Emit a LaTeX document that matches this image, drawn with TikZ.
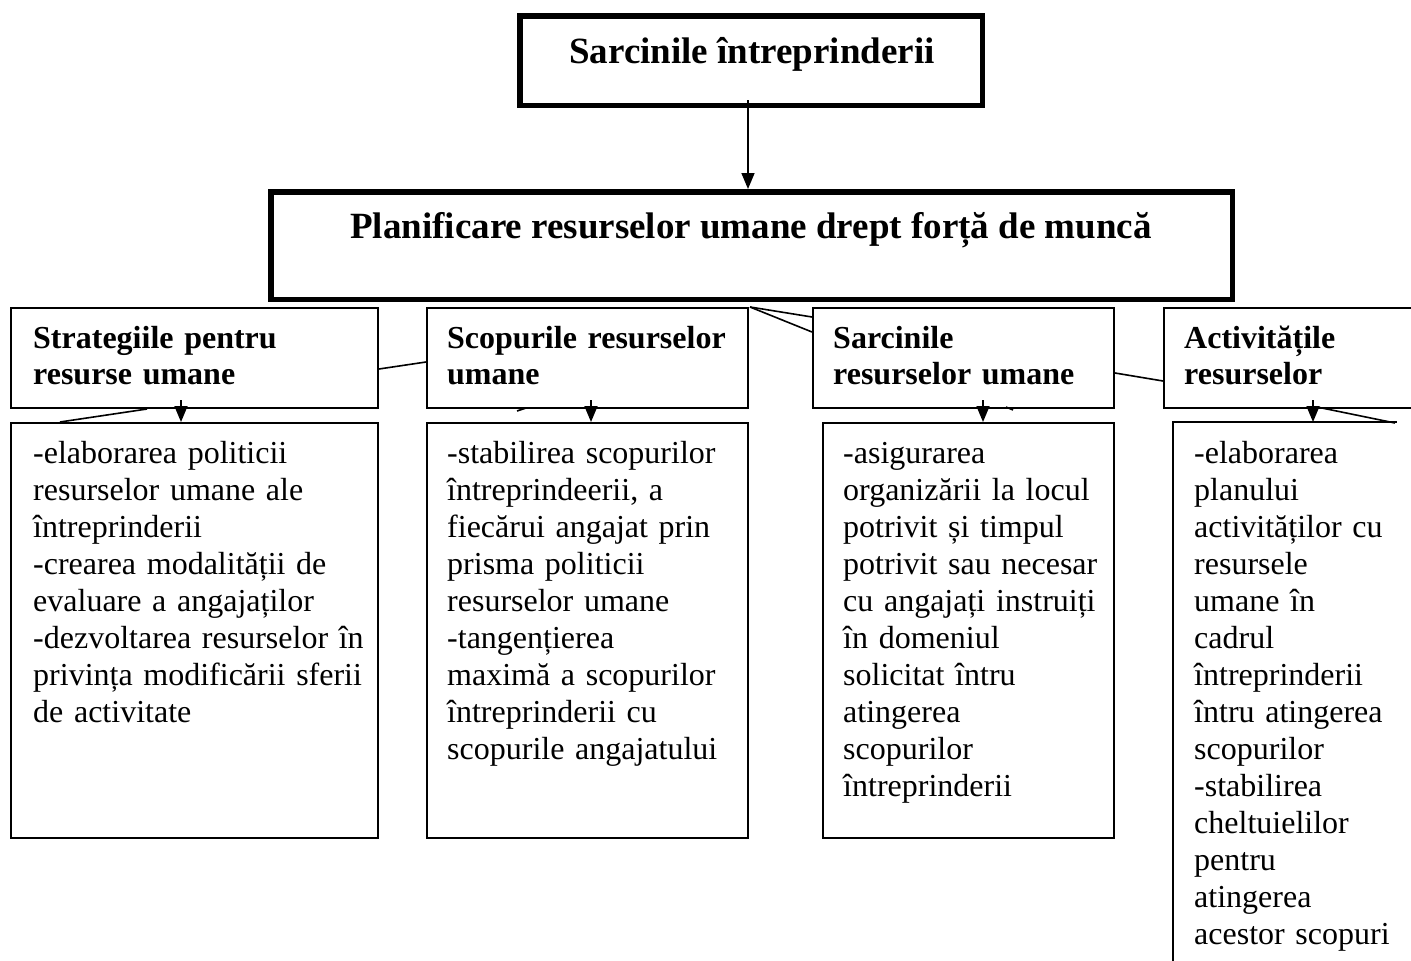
\documentclass[tikz,border=0pt]{standalone}
\usepackage{fontspec}
\setmainfont{Liberation Serif}
\usetikzlibrary{arrows.meta}
\begin{document}
\begin{tikzpicture}[x=1pt,y=-1pt,
  thickbox/.style={draw, line width=5.5pt, inner sep=0pt, anchor=north west},
  thinbox/.style={draw, line width=1.6pt, inner sep=0pt, anchor=north west},
  openbox/.style={line width=1.6pt, inner sep=0pt, outer sep=0.8pt, anchor=north west},
  ttl/.style={font=\bfseries\fontsize{37}{42}\selectfont, inner sep=0pt, anchor=base},
  hdr/.style={font=\bfseries\fontsize{32}{36}\selectfont, inner sep=0pt, anchor=base west, text width=600pt, align=left},
  body/.style={font=\fontsize{32}{37}\selectfont, inner sep=0pt, anchor=base west, text width=600pt, align=left},
  conn/.style={line width=1.6pt},
  arr/.style={line width=1.6pt, -{Triangle[width=13pt,length=16pt]}},
]
\useasboundingbox[fill=white] (0,0) rectangle (1411,961);

% top boxes
\node[thickbox, minimum width=462.5pt, minimum height=89.5pt] (top) at (517,13) {};
\node[ttl] (toptxt) at (752,63) {Sarcinile întreprinderii};
\node[thickbox, minimum width=961.5pt, minimum height=107.5pt] (plan) at (268,189) {};
\node[ttl] (plantxt) at (751,238) {Planificare resurselor umane drept forță de muncă};

% header boxes
\node[thinbox, minimum width=367.4pt, minimum height=100.4pt] (h1) at (10,307) {};
\node[thinbox, minimum width=321.4pt, minimum height=100.4pt] (h2) at (426,307) {};
\node[thinbox, minimum width=301.4pt, minimum height=100.4pt] (h3) at (812,307) {};
\node[thinbox, minimum width=270pt, minimum height=100.4pt] (h4) at (1163,307) {};

\node[hdr] (h1t) at (33,348) {Strategiile pentru\\resurse umane};
\node[hdr] (h2t) at (447,348) {Scopurile resurselor\\umane};
\node[hdr] (h3t) at (833,348) {Sarcinile\\resurselor umane};
\node[hdr] (h4t) at (1184,348) {Activitățile\\resurselor};

% detail boxes
\node[thinbox, minimum width=367.4pt, minimum height=415.4pt] (d1) at (10,422) {};
\node[thinbox, minimum width=321.4pt, minimum height=415.4pt] (d2) at (426,422) {};
\node[thinbox, minimum width=291.4pt, minimum height=415.4pt] (d3) at (822,422) {};
\node[openbox, minimum width=222pt, minimum height=600pt] (d4) at (1173,422) {};
\draw[conn] (d4.north east) -- (d4.north west) -- (d4.south west);

\node[body] (d1t) at (33,463) {-elaborarea politicii\\resurselor umane ale\\întreprinderii\\-crearea modalității de\\evaluare a angajaților\\-dezvoltarea resurselor în\\privința modificării sferii\\de activitate};
\node[body] (d2t) at (447,463) {-stabilirea scopurilor\\întreprindeerii, a\\fiecărui angajat prin\\prisma politicii\\resurselor umane\\-tangențierea\\maximă a scopurilor\\întreprinderii cu\\scopurile angajatului};
\node[body] (d3t) at (843,463) {-asigurarea\\organizării la locul\\potrivit și timpul\\potrivit sau necesar\\cu angajați instruiți\\în domeniul\\solicitat întru\\atingerea\\scopurilor\\întreprinderii};
\node[body] (d4t) at (1194,463) {-elaborarea\\planului\\activităților cu\\resursele\\umane în\\cadrul\\întreprinderii\\întru atingerea\\scopurilor\\-stabilirea\\cheltuielilor\\pentru\\atingerea\\acestor scopuri};

% main arrow
\coordinate (ma) at (748,100);
\draw[arr] (ma) -- (ma |- plan.north);

% arrows to detail boxes
\coordinate (s1) at (181,400);
\coordinate (s2) at (591,400);
\coordinate (s3) at (983,400);
\coordinate (s4) at (1313,400);
\draw[arr] (s1) -- (s1 |- d1.north);
\draw[arr] (s2) -- (s2 |- d2.north);
\draw[arr] (s3) -- (s3 |- d3.north);
\draw[arr] (s4) -- (s4 |- d4.north);

% stray connector lines
\coordinate (c1a) at (379,369); \coordinate (c1b) at (426,362);
\coordinate (c2a) at (147,409); \coordinate (c2b) at (60,422);
\coordinate (c3a) at (750,307); \coordinate (c3b) at (812,317); \coordinate (c3c) at (812,332);
\coordinate (c5a) at (1115,373); \coordinate (c5b) at (1163,381);
\coordinate (c6a) at (1317,407); \coordinate (c6b) at (1395,423);
\coordinate (c7a) at (517,411); \coordinate (c7b) at (526,408);
\coordinate (c8a) at (1006,407); \coordinate (c8b) at (1013,410);
\draw[conn] (c1a) -- (c1b);
\draw[conn] (c2a) -- (c2b);
\draw[conn] (c3a) -- (c3b);
\draw[conn] (c3a) -- (c3c);
\draw[conn] (c5a) -- (c5b);
\draw[conn] (c6a) -- (c6b);
\draw[conn] (c7a) -- (c7b);
\draw[conn] (c8a) -- (c8b);
\end{tikzpicture}
\end{document}
